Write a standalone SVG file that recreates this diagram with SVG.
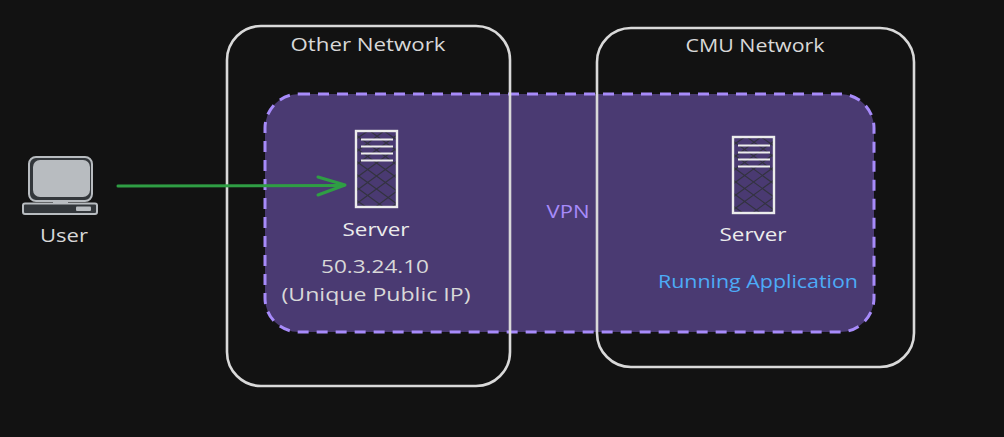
<svg xmlns="http://www.w3.org/2000/svg" width="1004" height="437" viewBox="0 0 1004 437">
<style>
text{font-family:"Open Sans","Noto Sans","DejaVu Sans",sans-serif;font-size:19px;fill:#d8d8d8;text-anchor:middle}
.net{fill:none;stroke:#d9d9d9;stroke-width:2.600}
.body{fill:none;stroke:#ececec;stroke-width:2.400}
.rule{stroke:#ececec;stroke-width:2}
.hatch{fill:none;stroke:#33333f;stroke-width:1.100}
</style>
<defs>
<clipPath id="srvclip"><rect x="0" y="0" width="41" height="76"/></clipPath>
<g id="srv">
<path class="hatch" clip-path="url(#srvclip)" d="M0 8 12 0M0 21 28 0M0 34 41 4M0 47 41 17M0 60 41 30M0 73 41 43M14 80 41 60M30 80 41 72M0 4 41 34M0 17 41 47M0 30 41 60M0 43 41 73M0 56 33 80M0 69 16 80M14 0 41 20M28 0 41 9"/>
<rect class="body" x="0" y="0" width="41" height="76"/>
<path class="rule" d="M5 8.500H37M5 15.500H37M5 22.500H37M5 29.500H37"/>
</g>
</defs>
<rect width="1004" height="437" fill="#121212"/>
<g id="vpn">
<rect x="265" y="94" width="609" height="238" rx="34" fill="#4a3a72" stroke="#a78bfa" stroke-width="3" stroke-dasharray="11 8"/>
<text x="568" y="218" style="fill:#a78bfa;font-size:18px" textLength="43" lengthAdjust="spacingAndGlyphs">VPN</text>
</g>
<g id="other-network">
<rect class="net" x="227" y="26" width="283" height="360" rx="34"/>
<text x="368" y="51" textLength="155" lengthAdjust="spacingAndGlyphs">Other Network</text>
</g>
<g id="cmu-network">
<rect class="net" x="597" y="28" width="317" height="339" rx="34"/>
<text x="755" y="52" textLength="139" lengthAdjust="spacingAndGlyphs">CMU Network</text>
</g>
<g id="user">
<rect x="29" y="157" width="63" height="44" rx="7" fill="#33373b" stroke="#b8bcc0" stroke-width="2"/>
<rect x="33" y="160" width="57" height="37" rx="7" fill="#b8bcc0"/>
<rect x="53" y="200" width="15" height="4" fill="#b8bcc0"/>
<rect x="23" y="203.500" width="74" height="10.500" rx="2" fill="#33373b" stroke="#b8bcc0" stroke-width="2"/>
<rect x="76" y="206.500" width="15" height="4.500" rx="1" fill="#b8bcc0"/>
<text x="64" y="242" textLength="48" lengthAdjust="spacingAndGlyphs">User</text>
</g>
<g id="server-other">
<use href="#srv" x="356" y="131"/>
<text x="376" y="236" style="fill:#ececec" textLength="67" lengthAdjust="spacingAndGlyphs">Server</text>
<text x="375" y="273" textLength="108" lengthAdjust="spacingAndGlyphs">50.3.24.10</text>
<text x="376" y="301" textLength="189" lengthAdjust="spacingAndGlyphs">(Unique Public IP)</text>
</g>
<g id="server-cmu">
<use href="#srv" x="733" y="137"/>
<text x="753" y="241" style="fill:#ececec" textLength="67" lengthAdjust="spacingAndGlyphs">Server</text>
<text x="758" y="288" style="fill:#4dabf7" textLength="200" lengthAdjust="spacingAndGlyphs">Running Application</text>
</g>
<g id="connectors" fill="none" stroke="#2f9e44" stroke-width="3" stroke-linecap="round" stroke-linejoin="round">
<path d="M118 186C200 185.500 280 185.500 344 185.500"/>
<path d="M318 177 345 185 318 195"/>
</g>
</svg>
